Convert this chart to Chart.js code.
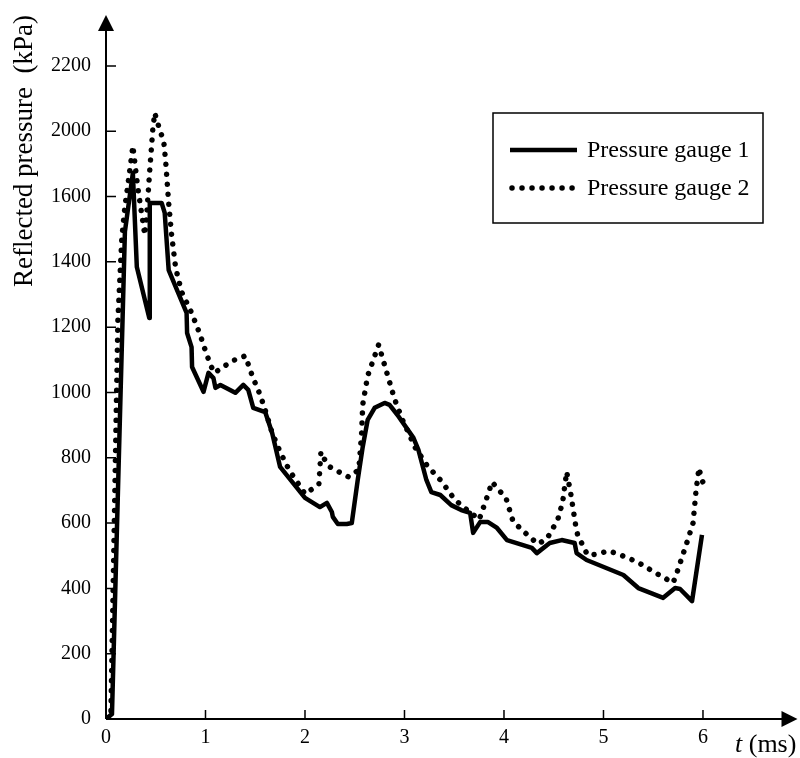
<!DOCTYPE html>
<html>
<head>
<meta charset="utf-8">
<script src="https://cdn.jsdelivr.net/npm/chart.js@4/dist/chart.umd.min.js"></script>
<style>
  html, body { margin: 0; padding: 0; background: #fff; }
  #wrap { width: 800px; height: 758px; position: relative; }
</style>
</head>
<body>
<div id="wrap"><canvas id="myChart"></canvas></div>
<script>
// time (ms) and reflected pressure (kPa), gauge 1
const time1 = [0, 0.06, 0.19, 0.27, 0.31, 0.435, 0.44, 0.56, 0.59, 0.63, 0.81, 0.815, 0.86, 0.865, 0.98,
  1.03, 1.08, 1.10, 1.15, 1.30, 1.38, 1.43, 1.48, 1.60, 1.67, 1.75, 2.00, 2.15, 2.22, 2.27, 2.28, 2.33,
  2.42, 2.47, 2.53, 2.58, 2.63, 2.70, 2.80, 2.85, 2.93, 3.09, 3.14, 3.22, 3.27, 3.36, 3.47, 3.57, 3.66,
  3.69, 3.76, 3.84, 3.93, 4.03, 4.28, 4.33, 4.46, 4.58, 4.71, 4.73, 4.83, 5.20, 5.35, 5.60, 5.72, 5.77,
  5.89, 5.99];
const pressure1 = [0, 15, 1492, 1672, 1384, 1228, 1580, 1580, 1550, 1375, 1244, 1182, 1139, 1078, 1002,
  1060, 1044, 1014, 1023, 999, 1023, 1008, 953, 940, 876, 772, 677, 649, 662, 634, 619, 597,
  597, 600, 732, 833, 916, 953, 968, 962, 931, 861, 824, 732, 695, 686, 655, 640, 631,
  570, 603, 603, 585, 548, 524, 508, 539, 548, 539, 508, 487, 441, 401, 371, 401, 398,
  361, 564];

// gauge 2
const time2 = [0, 0.05, 0.12, 0.16, 0.19, 0.24, 0.27, 0.32, 0.36, 0.39, 0.41, 0.44, 0.47, 0.49, 0.54,
  0.58, 0.60, 0.63, 0.66, 0.70, 0.76, 0.86, 0.94, 0.99, 1.05, 1.09, 1.27, 1.40, 1.47, 1.55, 1.60, 1.67,
  1.75, 1.84, 1.94, 2.00, 2.09, 2.14, 2.16, 2.21, 2.25, 2.34, 2.44, 2.54, 2.57, 2.58, 2.63, 2.74, 2.80,
  2.90, 2.98, 3.11, 3.23, 3.37, 3.50, 3.59, 3.67, 3.75, 3.81, 3.88, 3.94, 4.02, 4.09, 4.18, 4.34, 4.43,
  4.54, 4.59, 4.63, 4.67, 4.72, 4.74, 4.84, 4.94, 5.05, 5.15, 5.34, 5.51, 5.70, 5.74, 5.84, 5.90, 5.93,
  5.96, 5.98, 6.02];
const pressure2 = [0, 21, 1222, 1476, 1568, 1682, 1755, 1626, 1544, 1482, 1550, 1682, 1804, 1856, 1804,
  1770, 1706, 1580, 1482, 1381, 1308, 1244, 1182, 1136, 1084, 1060, 1097, 1112, 1051, 992, 946, 876,
  818, 763, 717, 689, 708, 720, 818, 787, 772, 757, 741, 763, 879, 962, 1051, 1146, 1084,
  980, 916, 830, 775, 729, 674, 649, 631, 610, 662, 726, 704, 677, 606, 579, 536, 551,
  610, 665, 757, 692, 594, 564, 502, 505, 515, 505, 481, 450, 417, 450, 542, 600, 698,
  769, 741, 708];

const xTickLabels = ['0', '1', '2', '3', '4', '5', '6'];
const yTickLabels = ['0', '200', '400', '600', '800', '1000', '1200', '1400', '1600', '2000', '2200'];

const serif = "'Liberation Serif', 'Times New Roman', serif";

const toPoints = (xs, ys) => xs.map((x, i) => ({ x: x, y: ys[i] }));

const axesPlugin = {
  id: 'axesPlugin',
  afterDraw(chart) {
    const ctx = chart.ctx;
    const area = chart.chartArea;
    const xs = chart.scales.x;
    const ys = chart.scales.y;
    const x0 = xs.getPixelForValue(0);
    const y0 = ys.getPixelForValue(0);
    ctx.save();
    ctx.strokeStyle = '#000';
    ctx.fillStyle = '#000';
    ctx.lineWidth = 2;
    // axis lines
    ctx.beginPath();
    ctx.moveTo(x0, y0);
    ctx.lineTo(x0, area.top + 10);
    ctx.moveTo(x0, y0);
    ctx.lineTo(area.right - 10, y0);
    ctx.stroke();
    // arrows
    ctx.beginPath();
    ctx.moveTo(x0, area.top);
    ctx.lineTo(x0 - 8, area.top + 16);
    ctx.lineTo(x0 + 8, area.top + 16);
    ctx.closePath();
    ctx.fill();
    ctx.beginPath();
    ctx.moveTo(area.right, y0);
    ctx.lineTo(area.right - 16, y0 - 8);
    ctx.lineTo(area.right - 16, y0 + 8);
    ctx.closePath();
    ctx.fill();
    // inward ticks
    ctx.lineWidth = 1.5;
    ctx.beginPath();
    xs.ticks.forEach(t => {
      if (t.value === 0) return;
      const px = xs.getPixelForValue(t.value);
      ctx.moveTo(px, y0);
      ctx.lineTo(px, y0 - 9);
    });
    ys.ticks.forEach(t => {
      if (t.value === 0) return;
      const py = ys.getPixelForValue(t.value);
      ctx.moveTo(x0, py);
      ctx.lineTo(x0 + 10, py);
    });
    ctx.stroke();

    // axis titles
    ctx.textBaseline = 'alphabetic';
    ctx.font = 'italic 26px ' + serif;
    ctx.textAlign = 'left';
    ctx.fillText('t', 735, 752);
    const tw = ctx.measureText('t').width;
    ctx.font = '26px ' + serif;
    ctx.fillText(' (ms)', 735 + tw, 752);

    ctx.save();
    ctx.translate(32, 151);
    ctx.rotate(-Math.PI / 2);
    ctx.textAlign = 'center';
    ctx.font = '27px ' + serif;
    ctx.fillText('Reflected pressure  (kPa)', 0, 0);
    ctx.restore();

    // legend box
    ctx.lineWidth = 1.5;
    ctx.strokeRect(493, 113, 270, 110);
    ctx.font = '24px ' + serif;
    ctx.textAlign = 'left';
    ctx.textBaseline = 'middle';
    chart.data.datasets.forEach((ds, i) => {
      const ly = 150 + i * 38;
      ctx.save();
      ctx.strokeStyle = ds.borderColor;
      ctx.lineWidth = ds.borderWidth;
      ctx.lineCap = ds.borderCapStyle;
      ctx.setLineDash(ds.borderDash);
      ctx.beginPath();
      ctx.moveTo(i === 0 ? 510 : 512, ly);
      ctx.lineTo(i === 0 ? 577 : 579, ly);
      ctx.stroke();
      ctx.restore();
      ctx.fillText(ds.label, 587, ly + 1);
    });
    ctx.restore();
  }
};

new Chart(
  document.getElementById('myChart'),
  {
    type: 'line',
    data: {
      datasets: [
        {
          label: 'Pressure gauge 1',
          data: toPoints(time1, pressure1),
          borderColor: '#000',
          borderWidth: 4.5,
          borderCapStyle: 'butt',
          borderJoinStyle: 'round',
          borderDash: [],
          pointRadius: 0,
          tension: 0
        },
        {
          label: 'Pressure gauge 2',
          data: toPoints(time2, pressure2),
          borderColor: '#000',
          borderWidth: 5.5,
          borderCapStyle: 'round',
          borderJoinStyle: 'round',
          borderDash: [0.01, 10],
          pointRadius: 0,
          tension: 0
        }
      ]
    },
    options: {
      responsive: true,
      maintainAspectRatio: false,
      animation: false,
      layout: { autoPadding: false, padding: { left: 0, top: 15, right: 2.5, bottom: 0 } },
      plugins: {
        legend: false,
        tooltip: { enabled: false }
      },
      scales: {
        x: {
          type: 'linear',
          min: 0,
          max: 6.95,
          afterFit(scale) {
            scale.height = 39;
            scale.paddingLeft = 0;
            scale.paddingRight = 0;
          },
          grid: { display: false, drawTicks: false },
          border: { display: false },
          ticks: {
            stepSize: 1,
            includeBounds: false,
            padding: 7,
            color: '#000',
            font: { family: serif, size: 20 },
            callback: (v, i) => xTickLabels[i]
          }
        },
        y: {
          min: 0,
          max: 2156,
          afterFit(scale) {
            scale.width = 106;
            scale.paddingTop = 0;
            scale.paddingBottom = 0;
          },
          grid: { display: false, drawTicks: false },
          border: { display: false },
          ticks: {
            stepSize: 200,
            includeBounds: false,
            padding: 15,
            color: '#000',
            font: { family: serif, size: 20 },
            callback: (v, i) => yTickLabels[i]
          }
        }
      }
    },
    plugins: [axesPlugin]
  }
);
</script>
</body>
</html>
